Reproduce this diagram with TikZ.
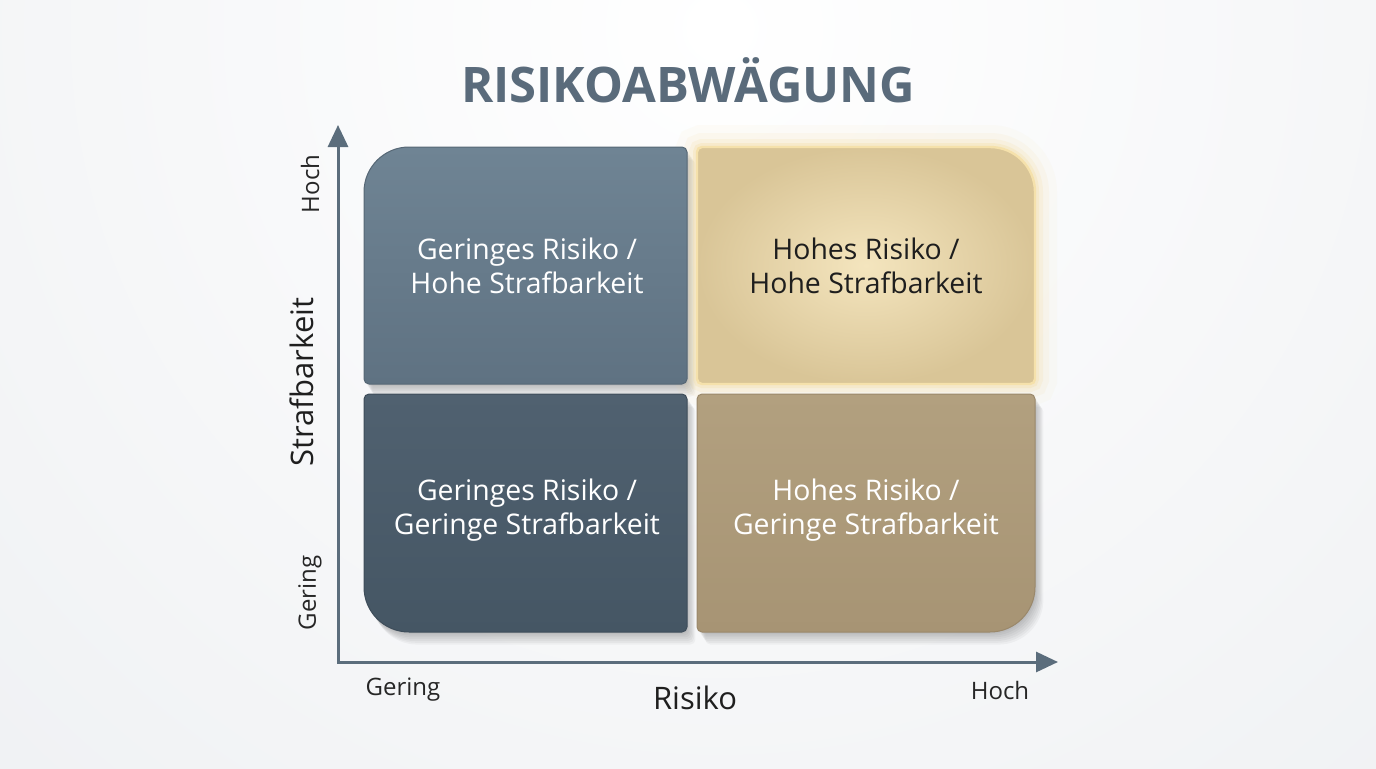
\documentclass[tikz,border=0pt]{standalone}
\usepackage{fontspec}
\setmainfont{Open Sans}
\usetikzlibrary{arrows.meta}
\definecolor{bg}{HTML}{ECEEF1}
\definecolor{axis}{HTML}{5B6D7C}
\definecolor{titlec}{HTML}{5A6B7B}
\definecolor{tltop}{HTML}{6F8494}
\definecolor{tlbot}{HTML}{5F7282}
\definecolor{bltop}{HTML}{506170}
\definecolor{blbot}{HTML}{455664}
\definecolor{trin}{HTML}{F4E5BE}
\definecolor{trout}{HTML}{D9C597}
\definecolor{trglow}{HTML}{F3D996}
\definecolor{brtop}{HTML}{B2A07F}
\definecolor{brbot}{HTML}{A79474}
\definecolor{darktext}{HTML}{1E1E1E}
% #1 style, #2 x1, #3 y1, #4 x2, #5 y2, radii: #6 tl, #7 tr, #8 br, #9 bl
\newcommand\rbox[9]{%
  \path[#1] (#2,{#3+#9}) -- (#2,{#5-#6}) arc[start angle=180,end angle=90,radius=#6]
    -- ({#4-#7},#5) arc[start angle=90,end angle=0,radius=#7]
    -- (#4,{#3+#8}) arc[start angle=0,end angle=-90,radius=#8]
    -- ({#2+#9},#3) arc[start angle=270,end angle=180,radius=#9] -- cycle;}
\tikzset{
  boxtext/.style={align=center, font=\fontsize{14.2}{17}\selectfont, text=white},
  axislabel/.style={font=\fontsize{12}{14}\selectfont, text=black!85},
  axistitle/.style={font=\fontsize{15.5}{18}\selectfont, text=black!88},
  axisline/.style={draw=axis, line width=1.5pt, {Triangle[length=11pt,width=10pt]}-{Triangle[length=11pt,width=10pt]}},
  shadowfill/.style={fill=black, opacity=0.035},
}
\begin{document}
\begin{tikzpicture}[x=0.5pt,y=0.5pt]
\useasboundingbox (0,0) rectangle (1376,768);
% background
\fill[bg] (0,0) rectangle (1376,768);
\begin{scope}
  \clip (0,0) rectangle (1376,768);
  \shade[inner color=white, outer color=bg] (720,740) circle (1300);
\end{scope}
% shadows
\foreach \s in {2,4,...,14} {
  \begin{scope}[shift={(\s*0.6,-\s*0.9)}]
    \rbox{shadowfill}{364}{384}{687}{621}{45}{5}{5}{5}
    \rbox{shadowfill}{364}{136}{687}{374}{5}{5}{5}{45}
    \rbox{shadowfill}{697}{136}{1035}{374}{5}{5}{45}{5}
  \end{scope}
}
% glow of the upper right box
\foreach \w/\o in {22/0.06,14/0.10,8/0.16,4/0.25} {
  \rbox{draw=trglow, line width=\w, opacity=\o}{697}{384}{1035}{621}{5}{45}{5}{5}
}
% boxes
\rbox{top color=tltop, bottom color=tlbot, draw=tlbot!90!black, line width=0.5pt}{364}{384}{687}{621}{45}{5}{5}{5}
\rbox{top color=bltop, bottom color=blbot, draw=blbot!90!black, line width=0.5pt}{364}{136}{687}{374}{5}{5}{5}{45}
\rbox{top color=brtop, bottom color=brbot, draw=brbot!92!black, line width=0.5pt}{697}{136}{1035}{374}{5}{5}{45}{5}
\rbox{inner color=trin, outer color=trout, draw=trglow!80!white, line width=1.2pt}{697}{384}{1035}{621}{5}{45}{5}{5}
% texts in boxes
\node[boxtext] (tl) at (527,502) {Geringes Risiko /\\Hohe Strafbarkeit};
\node[boxtext, text=darktext] (tr) at (866,502) {Hohes Risiko /\\Hohe Strafbarkeit};
\node[boxtext] (bl) at (527,258) {Geringes Risiko /\\Geringe Strafbarkeit};
\node[boxtext] (br) at (866,258) {Hohes Risiko /\\Geringe Strafbarkeit};
% axes
\coordinate (origin) at (338,106);
\coordinate (ytip) at (338,643);
\coordinate (xtip) at (1058,106);
\draw[axisline] (ytip) -- (origin) -- (xtip);
% axis labels
\node[axislabel, rotate=90] (yhigh) at (310,584) {Hoch};
\node[axislabel, rotate=90] (ylow) at (310,175) {Gering};
\node[axistitle, rotate=90] (ytitle) at (302,386) {Strafbarkeit};
\node[axislabel] (xlow) at (403,78) {Gering};
\node[axislabel] (xhigh) at (1000,78) {Hoch};
\node[axistitle] (xtitle) at (695,70) {Risiko};
% title
\node[font=\bfseries\fontsize{24.5}{30}\selectfont, text=titlec] (title) at (688,688) {RISIKOABWÄGUNG};
\end{tikzpicture}
\end{document}
